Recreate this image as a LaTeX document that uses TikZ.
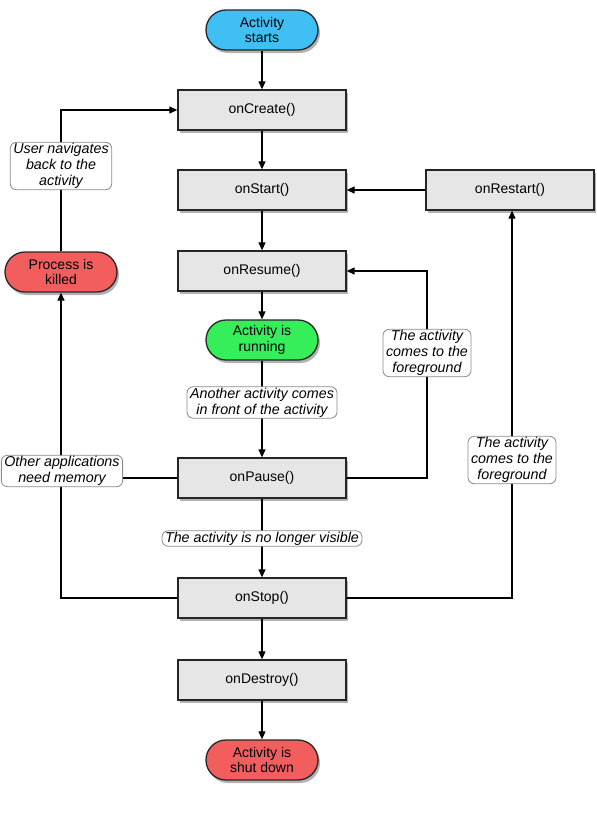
\documentclass[tikz,border=0pt]{standalone}
\usepackage{fontspec}
\setmainfont{Liberation Sans}
\usetikzlibrary{arrows.meta,shadows}
\definecolor{startc}{HTML}{3FBFF3}
\definecolor{runc}{HTML}{35EE5A}
\definecolor{killc}{HTML}{F25E5E}
\definecolor{boxc}{HTML}{E6E6E6}
\begin{document}
\begin{tikzpicture}[x=1pt,y=-1pt,
  every node/.style={font=\fontsize{14}{15.5}\selectfont, align=center},
  shad/.style={drop shadow={shadow xshift=2pt,shadow yshift=-3pt,opacity=0.3,fill=black}},
  cb/.style={draw=black!85, line width=1.3pt, fill=boxc, minimum width=168pt, minimum height=40pt, inner sep=0pt, shad},
  pill/.style={draw=black!85, line width=1.3pt, rounded corners=20pt, minimum width=112pt, minimum height=40pt, inner sep=0pt, shad},
  lbl/.style={draw=black!45, line width=0.8pt, fill=white, rounded corners=6pt, inner xsep=3pt, inner ysep=1pt, font=\fontsize{14.3}{16}\selectfont\itshape},
  arr/.style={line width=1.2pt, -{Triangle[length=8pt,width=7pt]}},
  ln/.style={line width=1.2pt}
]
\useasboundingbox (0,0) rectangle (597,822);
% nodes
\node[pill, fill=startc] (starts) at (262,30) {Activity\\starts};
\node[cb] (create) at (262,110) {onCreate()};
\node[cb] (start) at (262,190) {onStart()};
\node[cb] (restart) at (510,190) {onRestart()};
\node[cb] (resume) at (262,271) {onResume()};
\node[pill, fill=runc] (running) at (262,340) {Activity is\\running};
\node[cb] (pause) at (262,478) {onPause()};
\node[cb] (stop) at (262,598) {onStop()};
\node[cb] (destroy) at (262,680) {onDestroy()};
\node[pill, fill=killc] (shut) at (262,760) {Activity is\\shut down};
\node[pill, fill=killc] (killed) at (61,272) {Process is\\killed};
% connectors (drawn before labels)
\draw[arr] (starts) -- (create);
\draw[arr] (create) -- (start);
\draw[arr] (start) -- (resume);
\draw[arr] (resume) -- (running);
\draw[arr] (running) -- (pause);
\draw[arr] (pause) -- (stop);
\draw[arr] (stop) -- (destroy);
\draw[arr] (destroy) -- (shut);
\draw[arr] (restart) -- (start);
\coordinate (up1) at (427,478);
\draw[arr] (pause.east) -- (up1) |- (resume.east);
\coordinate (up2) at (512,598);
\draw[arr] (stop.east) -- (up2) -- (up2 |- restart.south);
\coordinate (lf) at (61,598);
\draw[arr] (stop.west) -- (lf) -- (killed.south);
\coordinate (lt) at (61,110);
\draw[arr] (killed.north) -- (lt) -- (create.west);
\coordinate (pl) at (61,478);
\draw[ln] (pause.west) -- (pl);
% labels
\node[lbl] (l1) at (262,402.5) {Another activity comes\\in front of the activity};
\node[lbl] (l2) at (262,538.5) {The activity is no longer visible};
\node[lbl] (l3) at (427,353) {The activity\\comes to the\\foreground};
\node[lbl] (l4) at (512,460) {The activity\\comes to the\\foreground};
\node[lbl] (l5) at (62,471) {Other applications\\need memory};
\node[lbl] (l6) at (61,166) {User navigates\\back to the\\activity};
\end{tikzpicture}
\end{document}
